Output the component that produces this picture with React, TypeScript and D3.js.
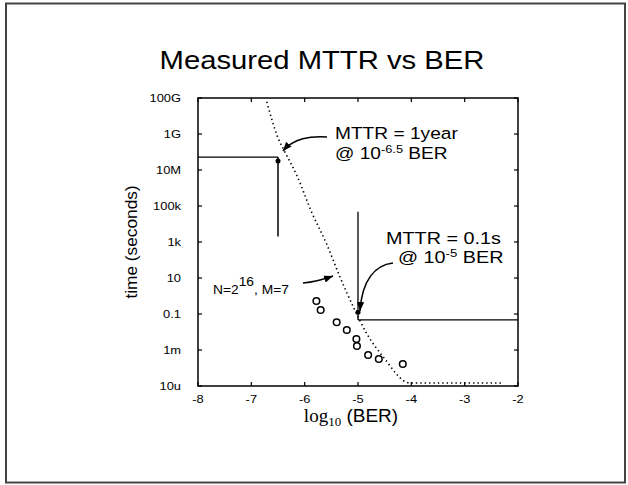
import React from "react";
import * as d3 from "d3";

const xTicks = [-8, -7, -6, -5, -4, -3, -2];
const yTickVals = [11, 9, 7, 5, 3, 1, -1, -3, -5];
const yTickLabels = ["100G", "1G", "10M", "100k", "1k", "10", "0.1", "1m", "10u"];

const theoryBER = [-6.71, -6.52, -6.34, -6.15, -5.87, -5.59, -5.34, -5.09, -4.84, -4.53, -4.03, -2.28];
const theoryLogT = [10.79, 8.94, 7.83, 6.72, 4.66, 2.9, 1.07, -0.59, -2.07, -3.37, -4.83, -4.83];

const measBER = [-5.78, -5.7, -5.4, -5.21, -5.03, -5.02, -4.81, -4.61, -4.16];
const measLogT = [-0.28, -0.78, -1.46, -1.89, -2.39, -2.78, -3.28, -3.5, -3.78];

const W = 628;
const H = 485;

export default function App() {
  const x = d3.scaleLinear().domain([-8, -2]).range([198, 518]);
  const y = d3.scaleLinear().domain([-5, 11]).range([386, 98]);
  const line = d3
    .line<number>()
    .x((_, i) => x(theoryBER[i]))
    .y((_, i) => y(theoryLogT[i]))
    .curve(d3.curveMonotoneX);
  const theoryPath = line(theoryBER) || "";
  const font = "'Liberation Sans', Arial, Helvetica, sans-serif";
  const serif = "'Liberation Serif', 'DejaVu Serif', serif";
  const sx = (tx: number, ty: number, s: number) => `translate(${tx},${ty}) scale(${s},1)`;

  const x0 = x(-8), x1 = x(-2), y0 = y(-5), y1 = y(11);

  return (
    <svg width={W} height={H} style={{ position: "absolute", left: 0, top: 0 }} fontFamily={font}>
      <defs>
        <marker id="ah" viewBox="0 0 10 10" refX="10" refY="5" markerWidth="9" markerHeight="9" markerUnits="userSpaceOnUse" orient="auto">
          <path d="M0,1 L10,5 L0,9 Z" fill="#000" />
        </marker>
      </defs>
      <rect x={0} y={0} width={W} height={H} fill="#fff" />
      <rect x={6} y={3.5} width={619} height={479} fill="none" stroke="#444" strokeWidth={2} />

      <text transform={sx(322, 69, 1.17)} fontSize={25} textAnchor="middle">Measured MTTR vs BER</text>

      {/* axes box */}
      <rect x={x0} y={y1} width={x1 - x0} height={y0 - y1} fill="none" stroke="#000" strokeWidth={1.5} />
      {xTicks.map((t) => (
        <g key={"xt" + t}>
          <line x1={x(t)} x2={x(t)} y1={y0} y2={y0 - 4} stroke="#000" strokeWidth={1.2} />
          <line x1={x(t)} x2={x(t)} y1={y1} y2={y1 + 4} stroke="#000" strokeWidth={1.2} />
          <text transform={sx(x(t), 403, 1.12)} fontSize={11.5} textAnchor="middle">{t}</text>
        </g>
      ))}
      {yTickVals.map((t, i) => (
        <g key={"yt" + t}>
          <line x1={x0} x2={x0 + 4} y1={y(t)} y2={y(t)} stroke="#000" strokeWidth={1.2} />
          <line x1={x1} x2={x1 - 4} y1={y(t)} y2={y(t)} stroke="#000" strokeWidth={1.2} />
          <text transform={sx(181, y(t) + 4, 1.12)} fontSize={11.5} textAnchor="end">{yTickLabels[i]}</text>
        </g>
      ))}

      {/* axis labels */}
      <text transform={`translate(137,242) rotate(-90) scale(1.08,1)`} fontSize={16} textAnchor="middle">time (seconds)</text>
      <text x={351} y={422} fontSize={19} textAnchor="middle">
        <tspan fontFamily={serif}>log</tspan>
        <tspan fontFamily={serif} fontSize={13} dy={4}>10</tspan>
        <tspan dy={-4}>{"\u00a0(BER)"}</tspan>
      </text>

      {/* theory dotted curve */}
      <path d={theoryPath} fill="none" stroke="#000" strokeWidth={1.6} strokeDasharray="1.4,3" />

      {/* measured points */}
      {measBER.map((b, i) => (
        <circle key={"m" + i} cx={x(b)} cy={y(measLogT[i])} r={3.3} fill="none" stroke="#000" strokeWidth={1.5} />
      ))}

      {/* annotation 1: 1 year */}
      <line x1={x0} x2={x(-6.5)} y1={y(7.72)} y2={y(7.72)} stroke="#000" strokeWidth={1.3} />
      <line x1={x(-6.5)} x2={x(-6.5)} y1={y(7.72)} y2={y(3.3)} stroke="#000" strokeWidth={1.5} />
      <circle cx={x(-6.5)} cy={y(7.5)} r={2.5} fill="#000" />
      <path d="M327,137 C310,136 294,138 283,151" fill="none" stroke="#000" strokeWidth={1.5} markerEnd="url(#ah)" />
      <text transform={sx(335, 139, 1.16)} fontSize={16.5}>MTTR = 1year</text>
      <text transform={sx(335, 159, 1.16)} fontSize={16.5}>
        @ 10<tspan fontSize={11} dy={-6}>-6.5</tspan><tspan dy={6}> BER</tspan>
      </text>

      {/* annotation 2: 0.1 s */}
      <line x1={x(-5)} x2={x(-5)} y1={y(4.68)} y2={y(-1.33)} stroke="#000" strokeWidth={1.3} />
      <line x1={x(-5)} x2={x1} y1={y(-1.33)} y2={y(-1.33)} stroke="#000" strokeWidth={1.3} />
      <circle cx={x(-5)} cy={y(-0.9)} r={2.5} fill="#000" />
      <path d="M393,263 C375,265 362,280 360,311" fill="none" stroke="#000" strokeWidth={1.5} markerEnd="url(#ah)" />
      <text transform={sx(386, 244, 1.2)} fontSize={16.5}>MTTR = 0.1s</text>
      <text transform={sx(398, 263, 1.2)} fontSize={16.5}>
        @ 10<tspan fontSize={11} dy={-6}>-5</tspan><tspan dy={6}> BER</tspan>
      </text>

      {/* annotation 3: N, M */}
      <text transform={sx(213, 294, 1.15)} fontSize={12}>
        N=2<tspan fontSize={12} dy={-8}>16</tspan><tspan dy={8}>, M=7</tspan>
      </text>
      <path d="M303,283 C315,282 322,280 333,276" fill="none" stroke="#000" strokeWidth={1.5} markerEnd="url(#ah)" />
    </svg>
  );
}
